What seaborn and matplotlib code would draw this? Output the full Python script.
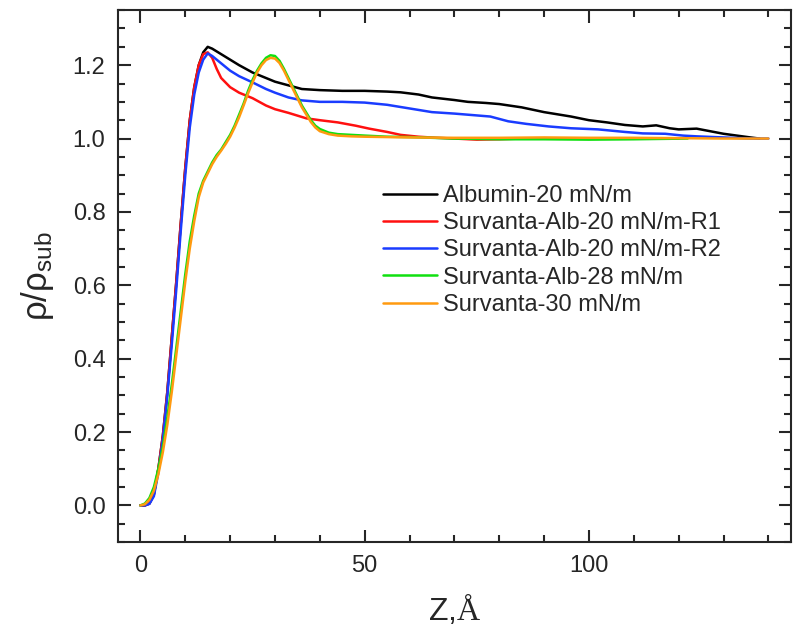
import pandas as pd
import seaborn as sns
import matplotlib.pyplot as plt
from matplotlib.ticker import MultipleLocator, FormatStrFormatter

# Curvas de densidad electronica (leidas a ojo de la figura)
alb_x = [0, 1, 2, 3, 4, 5, 6, 7, 8, 9, 10, 11, 12, 13, 14, 15, 16, 18, 20, 22, 25,
         28, 30, 33, 36, 40, 45, 50, 55, 58, 62, 65, 70, 73, 77, 80, 85, 90, 96, 100,
         104, 108, 112, 115, 118, 120, 124, 127, 130, 133, 136, 138]
alb_y = [0, 0, 0.005, 0.03, 0.10, 0.19, 0.31, 0.46, 0.61, 0.77, 0.92, 1.05, 1.14, 1.20,
         1.235, 1.25, 1.245, 1.23, 1.215, 1.20, 1.18, 1.165, 1.155, 1.145, 1.135, 1.132,
         1.13, 1.13, 1.128, 1.126, 1.12, 1.112, 1.105, 1.10, 1.097, 1.094, 1.085, 1.072,
         1.06, 1.05, 1.044, 1.037, 1.033, 1.036, 1.028, 1.025, 1.027, 1.02, 1.013, 1.008,
         1.003, 1.0]

r1_x = [0, 1, 2, 3, 4, 5, 6, 7, 8, 9, 10, 11, 12, 13, 14, 15, 16, 17, 18, 20, 22, 25,
        28, 30, 33, 37, 40, 44, 48, 51, 55, 58, 62, 66, 70, 75, 80, 85, 95, 110, 120]
r1_y = [0, 0, 0.005, 0.03, 0.10, 0.19, 0.31, 0.46, 0.61, 0.77, 0.92, 1.05, 1.14, 1.20,
        1.23, 1.235, 1.22, 1.19, 1.165, 1.14, 1.125, 1.11, 1.09, 1.08, 1.07, 1.055, 1.05,
        1.044, 1.035, 1.027, 1.018, 1.01, 1.005, 1.002, 1.0, 0.997, 0.998, 1.0, 1.0,
        1.0, 1.0]

r2_x = [0, 1, 2, 3, 4, 5, 6, 7, 8, 9, 10, 11, 12, 13, 14, 15, 16, 18, 20, 22, 25, 28,
        30, 33, 36, 40, 45, 50, 55, 58, 62, 65, 70, 75, 78, 82, 86, 91, 96, 102, 108,
        112, 117, 121, 124, 128, 132, 136, 140]
r2_y = [0, 0, 0.004, 0.025, 0.09, 0.18, 0.30, 0.44, 0.59, 0.75, 0.90, 1.03, 1.12, 1.18,
        1.215, 1.232, 1.225, 1.205, 1.185, 1.17, 1.153, 1.135, 1.125, 1.112, 1.104, 1.10,
        1.10, 1.098, 1.092, 1.086, 1.078, 1.072, 1.068, 1.063, 1.06, 1.047, 1.04, 1.033,
        1.028, 1.025, 1.018, 1.014, 1.013, 1.008, 1.006, 1.004, 1.002, 1.0, 1.0]

a28_x = [0, 1, 2, 3, 4, 5, 6, 7, 8, 9, 10, 11, 12, 13, 14, 15, 16, 17, 18, 19, 20, 21,
         22, 23, 24, 25, 26, 27, 28, 29, 30, 31, 32, 33, 34, 35, 36, 37, 38, 39, 40, 42,
         44, 47, 50, 55, 60, 70, 80, 90, 100, 110, 122]
a28_y = [0, 0.005, 0.02, 0.05, 0.10, 0.16, 0.24, 0.33, 0.43, 0.53, 0.63, 0.72, 0.79,
         0.85, 0.885, 0.91, 0.935, 0.955, 0.97, 0.99, 1.01, 1.035, 1.065, 1.095, 1.13,
         1.16, 1.185, 1.205, 1.22, 1.227, 1.225, 1.212, 1.19, 1.165, 1.14, 1.115, 1.09,
         1.07, 1.05, 1.035, 1.026, 1.016, 1.012, 1.01, 1.008, 1.005, 1.004, 1.0, 0.998,
         0.998, 0.997, 0.998, 1.0]

s30_x = [0, 1, 2, 3, 4, 5, 6, 7, 8, 9, 10, 11, 12, 13, 14, 15, 16, 17, 18, 19, 20, 21,
         22, 23, 24, 25, 26, 27, 28, 29, 30, 31, 32, 33, 34, 35, 36, 37, 38, 39, 40, 42,
         44, 47, 50, 55, 60, 70, 80, 90, 100, 110, 120, 130, 140]
s30_y = [0, 0.003, 0.015, 0.04, 0.085, 0.145, 0.22, 0.31, 0.41, 0.51, 0.61, 0.70, 0.775,
         0.84, 0.88, 0.905, 0.93, 0.95, 0.967, 0.985, 1.005, 1.03, 1.058, 1.09, 1.123,
         1.153, 1.18, 1.2, 1.214, 1.22, 1.218, 1.206, 1.185, 1.16, 1.135, 1.11, 1.085,
         1.065, 1.045, 1.03, 1.02, 1.012, 1.008, 1.006, 1.005, 1.004, 1.003, 1.002, 1.002,
         1.003, 1.002, 1.002, 1.001, 1.0, 1.0]

etiquetas = ["Albumin-20 mN/m", "Survanta-Alb-20 mN/m-R1", "Survanta-Alb-20 mN/m-R2",
             "Survanta-Alb-28 mN/m", "Survanta-30 mN/m"]
colores = ["#000000", "#ff1010", "#1a3cff", "#10e010", "#ff9a10"]

datos = pd.concat([
    pd.DataFrame({"z": x, "rho": y, "serie": s})
    for x, y, s in zip([alb_x, r1_x, r2_x, a28_x, s30_x],
                       [alb_y, r1_y, r2_y, a28_y, s30_y], etiquetas)
])

sns.set_style("ticks")
plt.rcParams["font.family"] = ["Liberation Sans", "DejaVu Sans"]
plt.rcParams["mathtext.fontset"] = "custom"
plt.rcParams["mathtext.rm"] = "Liberation Serif"

fig = plt.figure(figsize=(8, 6.34), dpi=100)
ax = fig.add_axes([0.1475, 0.145, 0.841, 0.839])

sns.lineplot(data=datos, x="z", y="rho", hue="serie", hue_order=etiquetas,
             palette=colores, estimator=None, sort=False, linewidth=1.8, ax=ax)

ax.set_xlim(-5, 145)
ax.set_ylim(-0.1, 1.35)
ax.xaxis.set_major_locator(MultipleLocator(50))
ax.xaxis.set_minor_locator(MultipleLocator(10))
ax.yaxis.set_major_locator(MultipleLocator(0.2))
ax.yaxis.set_minor_locator(MultipleLocator(0.05))
ax.yaxis.set_major_formatter(FormatStrFormatter("%.1f"))
ax.tick_params(which="both", direction="in", top=True, right=True, width=1.5,
               labelsize=17, pad=9)
ax.tick_params(which="major", length=9)
ax.tick_params(which="minor", length=5)
for sp in ax.spines.values():
    sp.set_linewidth(1.5)

ax.set_xlabel("Z,$\\mathrm{Å}$", fontsize=23, labelpad=11)
ax.set_ylabel("$\\mathregular{ρ/ρ_{sub}}$", fontsize=25, labelpad=12)

ax.legend(frameon=False, fontsize=17, loc="upper left",
          bbox_to_anchor=(383 / 800, 1 - 185 / 634), bbox_transform=fig.transFigure,
          borderpad=0, borderaxespad=0, handlelength=2.3, handletextpad=0.25,
          labelspacing=0.22)

fig.savefig("out.png", dpi=100)
